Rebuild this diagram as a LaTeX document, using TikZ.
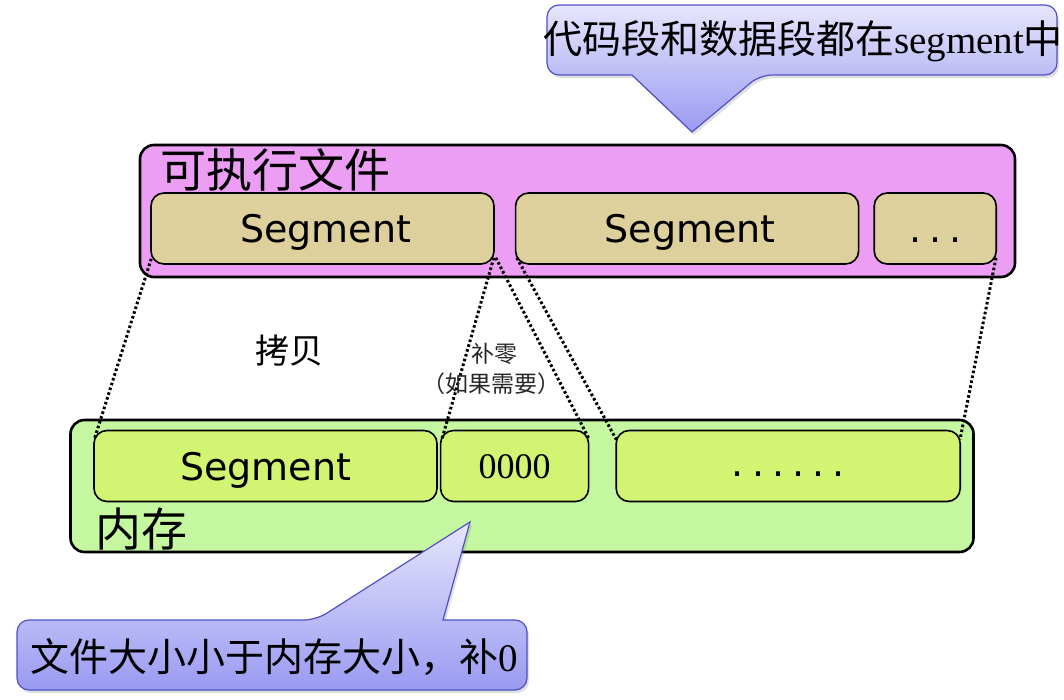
\documentclass[tikz,border=0pt]{standalone}
\usepackage{fontspec}
\setmainfont{Liberation Serif}
\newfontfamily\cjk{Noto Sans CJK SC}
\newfontfamily\segfont{DejaVu Sans}
\usetikzlibrary{positioning,shadows}
\definecolor{execpink}{HTML}{EC9EF4}
\definecolor{segtan}{HTML}{DDD09C}
\definecolor{memgreen}{HTML}{C4F7A0}
\definecolor{memseg}{HTML}{D3F373}
\definecolor{calloutline}{HTML}{5050C4}
\definecolor{calltop}{HTML}{E6E6FC}
\definecolor{callbottom}{HTML}{9A9AF2}
\newlength{\SegHeight}
\newlength{\OuterHeight}
\newlength{\SegWidth}
\setlength{\SegHeight}{71pt}
\setlength{\OuterHeight}{132pt}
\setlength{\SegWidth}{343pt}
\newcommand{\SegFont}{\fontsize{38}{42}\selectfont\segfont}
\newcommand{\DotGap}{\hspace{8pt}}
\tikzset{
  outer box/.style={draw, line width=2.6pt, rounded corners=14pt, minimum height=\OuterHeight, inner sep=0pt},
  seg box/.style={draw, line width=1.6pt, rounded corners=13pt, minimum height=\SegHeight, inner sep=0pt, text height=28pt, text depth=0pt, font=\SegFont},
  box label/.style={inner sep=0pt, anchor=west, font=\fontsize{46}{50}\selectfont\cjk},
  mid text/.style={inner sep=0pt, font=\fontsize{34}{38}\selectfont\cjk},
  small text/.style={inner sep=0pt, text=black!85, font=\fontsize{23}{27}\selectfont\cjk},
  note text/.style={inner sep=0pt, font=\fontsize{39}{44}\selectfont},
  map line/.style={line width=3pt, dash pattern=on 2.6pt off 2.4pt},
  callout/.style={draw=calloutline, line width=1.2pt, top color=calltop, bottom color=callbottom,
    drop shadow={opacity=0.25, shadow xshift=2pt, shadow yshift=-3pt}}
}

\begin{document}
\begin{tikzpicture}[x=1pt, y=-1pt]
  \useasboundingbox (0,0) rectangle (1064,700);

  \node[outer box, fill=execpink, minimum width=875pt] (exec) at (577.5,211) {};
  \node[box label] (execlab) at (160,170) {可执行文件};
  \node[seg box, fill=segtan, minimum width=\SegWidth] (eseg1) at (322.5,228.5) {\hspace{6pt}Segment};
  \node[seg box, fill=segtan, minimum width=\SegWidth, right=20pt of eseg1] (eseg2) {\hspace{6pt}Segment};
  \node[seg box, fill=segtan, minimum width=122pt, right=14pt of eseg2] (eseg3) {.\DotGap.\DotGap.\hspace{16pt}};

  \node[outer box, fill=memgreen, minimum width=903pt] (mem) at (522,486) {};
  \node[box label] (memlab) at (95,529) {内存};
  \node[seg box, fill=memseg, minimum width=\SegWidth] (mseg) at (265.5,466) {Segment};
  \node[seg box, fill=memseg, minimum width=148pt, text height=24pt, font=\fontsize{36}{40}\selectfont\rmfamily, right=2pt of mseg] (mzero) {0000};
  \node[seg box, fill=memseg, minimum width=344pt, text height=20pt, right=26pt of mzero] (mrest) {.\DotGap.\DotGap.\DotGap.\DotGap.\DotGap.};

  \draw[map line] ([xshift=1pt,yshift=6pt]eseg1.south west) -- ([xshift=1pt,yshift=-10pt]mseg.north west);
  \draw[map line] ([xshift=-1pt,yshift=7pt]eseg1.south east) -- ([xshift=2pt,yshift=-10pt]mzero.north west);
  \draw[map line] ([xshift=1pt,yshift=7pt]eseg1.south east) -- ([xshift=0pt,yshift=-10pt]mzero.north east);
  \draw[map line] ([xshift=2pt,yshift=7pt]eseg2.south west) -- ([xshift=1pt,yshift=-10pt]mrest.north west);
  \draw[map line] ([xshift=-1pt,yshift=7pt]eseg3.south east) -- ([xshift=-1pt,yshift=-10pt]mrest.north east);

  \node[mid text] (copylab) at (289,351) {拷贝};
  \node[small text] (padlab) at (494,354) {补零};
  \node[small text] (padnote) at (491,384) {（如果需要）};

  \shadedraw[callout] (547,40) [rounded corners=12pt] -- (547,5) -- (1057,5) -- (1057,75) -- (760,75) [sharp corners] -- (692,132) -- (632,75) [rounded corners=12pt] -- (547,75) -- cycle;
  \node[note text] (note1) at (803,41) {{\cjk 代码段和数据段都在}segment{\cjk 中}};

  \shadedraw[callout] (17,655) [rounded corners=12pt] -- (17,620) -- (316,620) [sharp corners] -- (470,522) -- (443,620) [rounded corners=12pt] -- (527,620) -- (527,690) -- (17,690) -- cycle;
  \node[note text] (note2) at (274,657) {{\cjk 文件大小小于内存大小，补}0};
  % \draw[map line] (note2.north) -- (mzero.south);
\end{tikzpicture}
\end{document}
